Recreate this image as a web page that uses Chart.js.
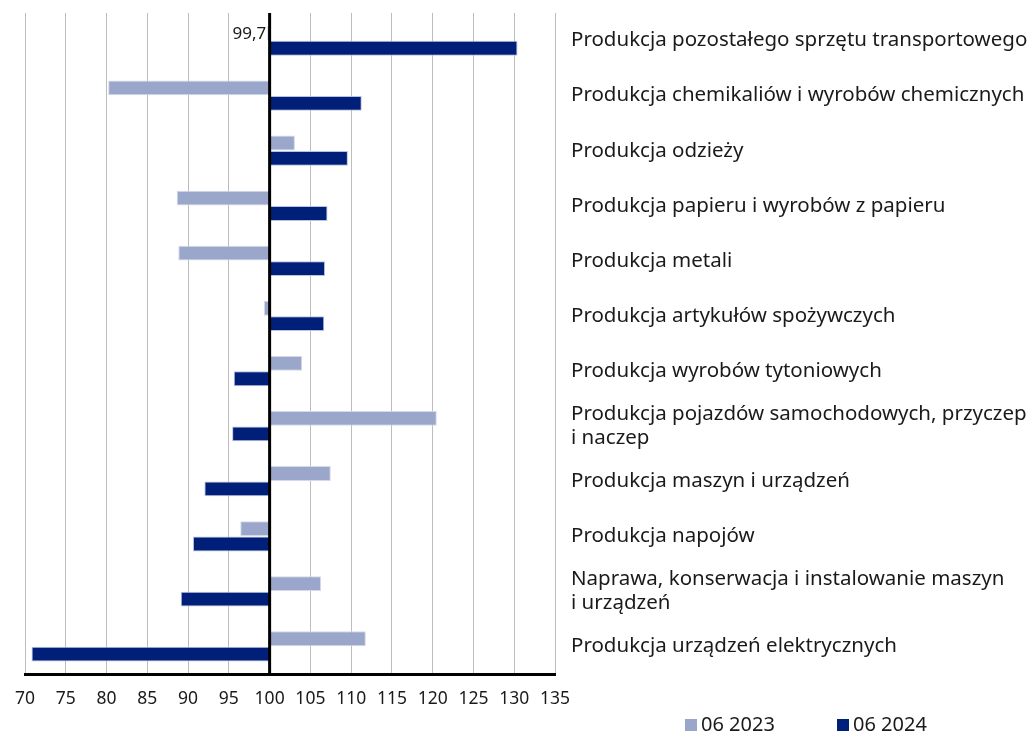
<!DOCTYPE html>
<html>
<head>
<meta charset="utf-8">
<script src="https://cdn.jsdelivr.net/npm/chart.js@4.4.1/dist/chart.umd.min.js"></script>
<style>
  html, body { margin: 0; padding: 0; background: #fff; }
  #wrap { width: 1030px; height: 733px; }
</style>
</head>
<body>
<div id="wrap"><canvas id="myChart"></canvas></div>
<script>
// -- DATA ---------------//
const Branches = [
	'Produkcja pozostałego sprzętu transportowego',
	'Produkcja chemikaliów i wyrobów chemicznych',
	'Produkcja odzieży',
	'Produkcja papieru i wyrobów z papieru',
	'Produkcja metali',
	'Produkcja artykułów spożywczych',
	'Produkcja wyrobów tytoniowych',
	['Produkcja pojazdów samochodowych, przyczep', 'i naczep'],
	'Produkcja maszyn i urządzeń',
	'Produkcja napojów',
	['Naprawa, konserwacja i instalowanie maszyn', 'i urządzeń'],
	'Produkcja urządzeń elektrycznych',
];
const Values2023 = [99.7, 80.2, 103.1, 88.6, 88.8, 99.3, 104.0, 120.5, 107.5, 96.4, 106.3, 111.8];
const Values2024 = [130.4, 111.3, 109.6, 107.1, 106.8, 106.7, 95.6, 95.4, 92.0, 90.6, 89.1, 70.8];
const SeriesNames = ['06 2023', '06 2024'];
const BaseValue = 100;
const AxisMin = 70, AxisMax = 135, AxisStep = 5;

const FONT = '"Noto Sans", "DejaVu Sans", sans-serif';

// thick black line at the 100 base
const baseLine = {
	id: 'baseLine',
	afterDatasetsDraw(chart) {
		const { ctx, chartArea, scales } = chart;
		const x = scales.x.getPixelForValue(BaseValue);
		ctx.save();
		ctx.strokeStyle = '#000';
		ctx.lineWidth = 3;
		ctx.beginPath();
		ctx.moveTo(x, chartArea.top);
		ctx.lineTo(x, chartArea.bottom);
		ctx.stroke();
		ctx.restore();
	}
};

// value label for the tiny first bar (99,7)
const smallLabel = {
	id: 'smallLabel',
	afterDatasetsDraw(chart) {
		const { ctx } = chart;
		const bar = chart.getDatasetMeta(0).data[0];
		const v = chart.data.datasets[0].data[0];
		ctx.save();
		ctx.font = '17px ' + FONT;
		ctx.fillStyle = '#1a1a1a';
		ctx.textAlign = 'right';
		ctx.textBaseline = 'middle';
		ctx.fillText(String(v).replace('.', ','), bar.x - 1, bar.y + 1);
		ctx.restore();
	}
};

// legend drawn under the category labels
const legendRow = {
	id: 'legendRow',
	afterDraw(chart) {
		const { ctx } = chart;
		let x = 685;
		const y = 724;
		ctx.save();
		chart.data.datasets.forEach(ds => {
			ctx.fillStyle = ds.backgroundColor;
			ctx.fillRect(x, y - 5, 12, 12);
			ctx.font = '20px ' + FONT;
			ctx.fillStyle = '#1a1a1a';
			ctx.textAlign = 'left';
			ctx.textBaseline = 'middle';
			ctx.fillText(ds.label, x + 16, y + 1);
			x += 152;
		});
		ctx.restore();
	}
};

const ctx1 = document.getElementById('myChart').getContext('2d');

const myChart = new Chart(ctx1, {
	type: 'bar',
	data: {
		labels: Branches,
		datasets: [
			{
				label: SeriesNames[0],
				data: Values2023,
				base: BaseValue,
				backgroundColor: '#9aa7ca',
				borderColor: '#d3d9ea',
				borderWidth: 1,
			},
			{
				label: SeriesNames[1],
				data: Values2024,
				base: BaseValue,
				backgroundColor: '#001f78',
				borderColor: '#b9c2de',
				borderWidth: 1,
			},
		],
	},
	options: {
		indexAxis: 'y',
		maintainAspectRatio: false,
		responsive: true,
		animation: false,
		categoryPercentage: 0.56,
		barPercentage: 0.96,
		layout: {
			padding: {
				top: 13,
				left: 22,
				right: 0,
				bottom: 29,
			}
		},
		plugins: {
			legend: {
				display: false, // drawn by legendRow
			},
			tooltip: {
				enabled: false,
			},
		},
		scales: {
			x: {
				min: AxisMin,
				max: AxisMax,
				afterFit: (scale) => { scale.height = 30; },
				border: {
					display: true,
					color: '#000',
					width: 3,
				},
				grid: {
					color: (c) => (c.tick && c.tick.value === BaseValue) ? 'rgba(0,0,0,0)' : '#bdbdbd',
					lineWidth: 1,
					drawTicks: false,
				},
				ticks: {
					stepSize: AxisStep,
					padding: 15,
					color: '#1a1a1a',
					font: {
						family: FONT,
						size: 17.5,
					},
				},
			},
			y: {
				position: 'right',
				afterFit: (scale) => {
					scale.width = 475;
					scale.paddingTop = 0; // labels never overhang the plot here
					scale.paddingBottom = 0;
				},
				border: {
					display: false,
				},
				grid: {
					display: false,
				},
				ticks: {
					padding: 8,
					color: '#1a1a1a',
					autoSkip: false,
					font: {
						family: FONT,
						size: 20.5,
						lineHeight: 1.17,
					},
				},
			},
		},
	},
	plugins: [baseLine, smallLabel, legendRow],
});
</script>
</body>
</html>
